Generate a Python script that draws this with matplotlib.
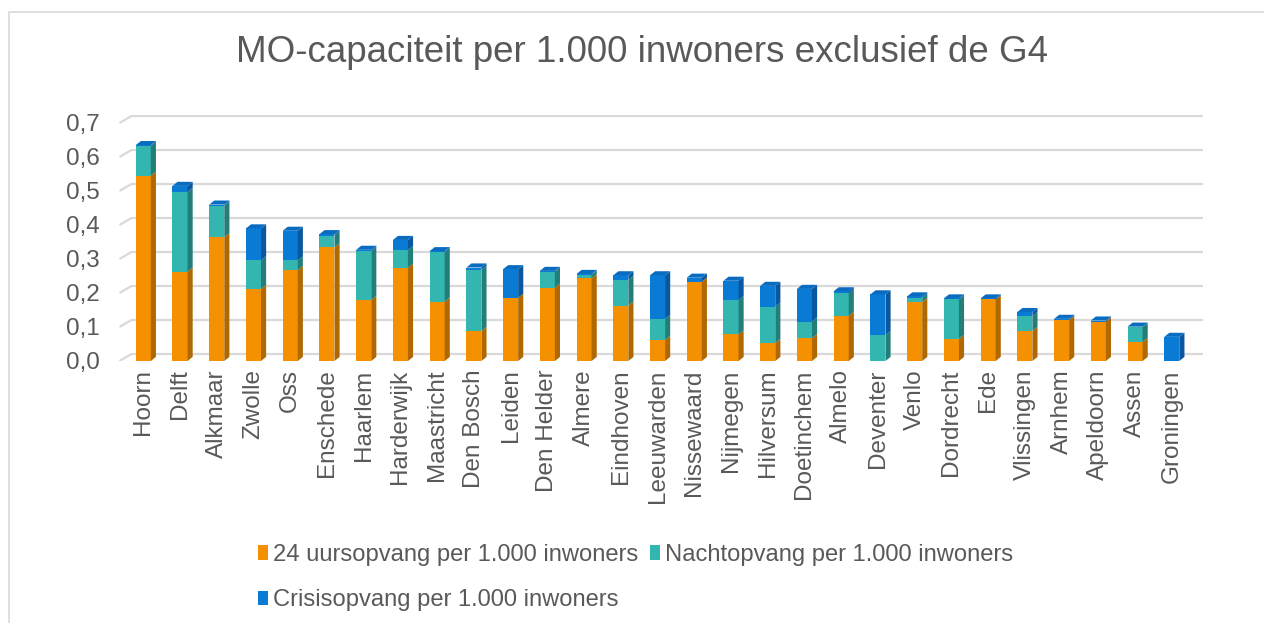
import numpy as np
import matplotlib.pyplot as plt
from matplotlib.patches import Polygon, Patch, Rectangle

plt.rcParams['font.family'] = ['Liberation Sans', 'DejaVu Sans']

cities = ['Hoorn', 'Delft', 'Alkmaar', 'Zwolle', 'Oss', 'Enschede', 'Haarlem',
          'Harderwijk', 'Maastricht', 'Den Bosch', 'Leiden', 'Den Helder',
          'Almere', 'Eindhoven', 'Leeuwarden', 'Nissewaard', 'Nijmegen',
          'Hilversum', 'Doetinchem', 'Almelo', 'Deventer', 'Venlo', 'Dordrecht',
          'Ede', 'Vlissingen', 'Arnhem', 'Apeldoorn', 'Assen', 'Groningen']
opvang_24 = [0.545, 0.263, 0.364, 0.212, 0.267, 0.334, 0.179, 0.274, 0.175,
             0.088, 0.186, 0.216, 0.243, 0.163, 0.062, 0.233, 0.078, 0.053,
             0.067, 0.133, 0.0, 0.173, 0.065, 0.181, 0.088, 0.121, 0.116,
             0.056, 0.0]
nachtopvang = [0.088, 0.234, 0.093, 0.084, 0.029, 0.035, 0.144, 0.053, 0.146,
               0.180, 0.0, 0.047, 0.011, 0.076, 0.062, 0.0, 0.101, 0.107,
               0.049, 0.066, 0.076, 0.013, 0.116, 0.0, 0.044, 0.0, 0.0,
               0.044, 0.0]
crisisopvang = [0.002, 0.018, 0.003, 0.094, 0.087, 0.004, 0.004, 0.029, 0.002,
                0.007, 0.084, 0.002, 0.002, 0.013, 0.128, 0.012, 0.057, 0.061,
                0.096, 0.006, 0.120, 0.004, 0.003, 0.003, 0.012, 0.003, 0.003,
                0.001, 0.071]
series_labels = ['24 uursopvang per 1.000 inwoners',
                 'Nachtopvang per 1.000 inwoners',
                 'Crisisopvang per 1.000 inwoners']
yticks = [0.0, 0.1, 0.2, 0.3, 0.4, 0.5, 0.6, 0.7]

front = ['#F59100', '#33B5B0', '#0A7BD4']
side = ['#B06800', '#237E7A', '#0857A0']
top = ['#F7A030', '#45C0BB', '#0A6CC0']
grey = '#595959'

fig = plt.figure(figsize=(12.64, 6.23), dpi=100)
fig.patches.append(Rectangle((9 / 1264, -0.1), 1.2, 1 - 12 / 623 + 0.1,
                             transform=fig.transFigure, fill=False,
                             edgecolor='#D9D9D9', linewidth=1.2))
ax = fig.add_axes([119.4 / 1264, 262 / 623, 1083.6 / 1264, 0.725 * 340 / 623])

x = np.arange(len(cities))
w = 0.41
dx, dy = 0.14, 0.012      # depth of the bars
gdx, gy = 0.33, 0.0206    # depth of the back wall
x0, x1 = -0.65, 28.85

# back wall gridlines
for v in yticks:
    ax.plot([x0, x0 + gdx, x1], [v, v + gy, v + gy], color='#D9D9D9',
            lw=1.6, zorder=0, solid_capstyle='butt')

series = [opvang_24, nachtopvang, crisisopvang]
bottom = np.zeros(len(cities))
for k, vals in enumerate(series):
    vals = np.array(vals)
    ax.bar(x, vals, w, bottom=bottom, color=front[k], zorder=2)
    for i in range(len(cities)):
        if vals[i] <= 0:
            continue
        xr = x[i] + w / 2
        b, t = bottom[i], bottom[i] + vals[i]
        ax.add_patch(Polygon([(xr, b), (xr + dx, b + dy), (xr + dx, t + dy), (xr, t)],
                             closed=True, facecolor=side[k], edgecolor='none', zorder=2))
    bottom = bottom + vals

# top faces in the colour of the last series, as the source does
for i in range(len(cities)):
    xl, xr, t = x[i] - w / 2, x[i] + w / 2, bottom[i]
    ax.add_patch(Polygon([(xl, t), (xl + dx, t + dy), (xr + dx, t + dy), (xr, t)],
                         closed=True, facecolor=top[2], edgecolor='none', zorder=3))

ax.set_xlim(x0, x1)
ax.set_ylim(0, 0.725)
ax.set_yticks(yticks)
ax.set_yticklabels([f'{v:.1f}'.replace('.', ',') for v in yticks])
ax.set_xticks(x)
ax.set_xticklabels(cities, rotation=90)
ax.tick_params(axis='y', length=0, pad=14, labelsize=17.5, labelcolor=grey)
ax.tick_params(axis='x', length=0, pad=6, labelsize=17.5, labelcolor=grey)
for s in ax.spines.values():
    s.set_visible(False)
ax.patch.set_alpha(0)

fig.text(0.508, 1 - 53 / 623, 'MO-capaciteit per 1.000 inwoners exclusief de G4',
         ha='center', va='center', fontsize=26.5, color=grey)

handles = [Patch(facecolor=c, edgecolor='none') for c in front]
order = [0, 2, 1]
fig.legend([handles[i] for i in order], [series_labels[i] for i in order],
           loc='upper left', bbox_to_anchor=(258 / 1264, 1 - 544 / 623),
           ncol=2, frameon=False, fontsize=17.1, labelcolor=grey,
           handlelength=0.42, handleheight=0.55, handletextpad=0.2,
           columnspacing=0.5, labelspacing=0.98, borderpad=0, borderaxespad=0)

fig.savefig('out.png', dpi=100)
